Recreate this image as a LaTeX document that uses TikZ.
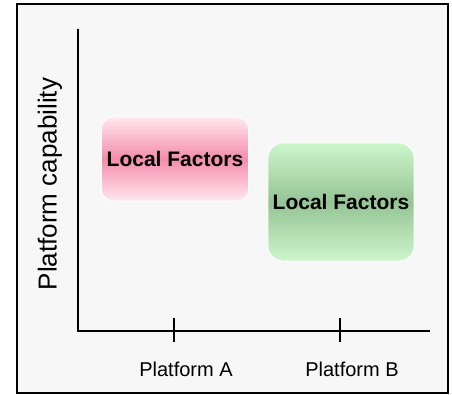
\documentclass[tikz,border=0pt]{standalone}
\usepackage{fontspec}
\setmainfont{Liberation Sans}
\usetikzlibrary{positioning}
\definecolor{lfpink}{RGB}{244,140,172}
\definecolor{lfpinklight}{RGB}{255,232,238}
\definecolor{lfgreen}{RGB}{150,196,150}
\definecolor{lfgreenlight}{RGB}{204,246,204}
\definecolor{panelgray}{RGB}{247,247,247}

\begin{document}
\begin{tikzpicture}[
      x=1pt, y=-1pt,
      factor/.style={rectangle, rounded corners=12pt, draw=white, thick,
        font=\fontsize{21}{25}\selectfont\bfseries, text centered, inner sep=0pt},
      axis/.style={line width=1.6pt},
      tick/.style={line width=1.4pt},
      platform/.style={font=\fontsize{20}{24}\selectfont}
    ]
      \useasboundingbox (0,0) rectangle (452,395);

      % Frame
      \draw[line width=1.6pt, fill=panelgray] (17,4) rectangle (448,393);

      % Local factor boxes
      \node[factor, top color=lfpinklight, bottom color=lfpinklight, middle color=lfpink,
        minimum width=147pt, minimum height=84pt] (localA) at (175,159) {Local Factors};
      \node[factor, top color=lfgreenlight, bottom color=lfgreenlight, middle color=lfgreen,
        rounded corners=15pt, minimum width=146pt, minimum height=118pt] (localB) at (341,202) {Local Factors};

      % Axes
      \coordinate (origin) at (78,331);
      \coordinate (ytop) at (78,29);
      \coordinate (xend) at (430,331);
      \draw[axis] (ytop) |- (xend);

      % Ticks
      \coordinate (tickA) at (174,331);
      \coordinate (tickB) at (340,331);
      \draw[tick] ([yshift=13pt]tickA) -- ([yshift=-11pt]tickA);
      \draw[tick] ([yshift=13pt]tickB) -- ([yshift=-11pt]tickB);

      % Axis labels
      \node[platform] (platA) at (186,369) {Platform A};
      \node[platform] (platB) at (352,369) {Platform B};
      \node[rotate=90, font=\fontsize{26}{30}\selectfont] (capability) at (50,184) {Platform capability};
    \end{tikzpicture}
\end{document}
